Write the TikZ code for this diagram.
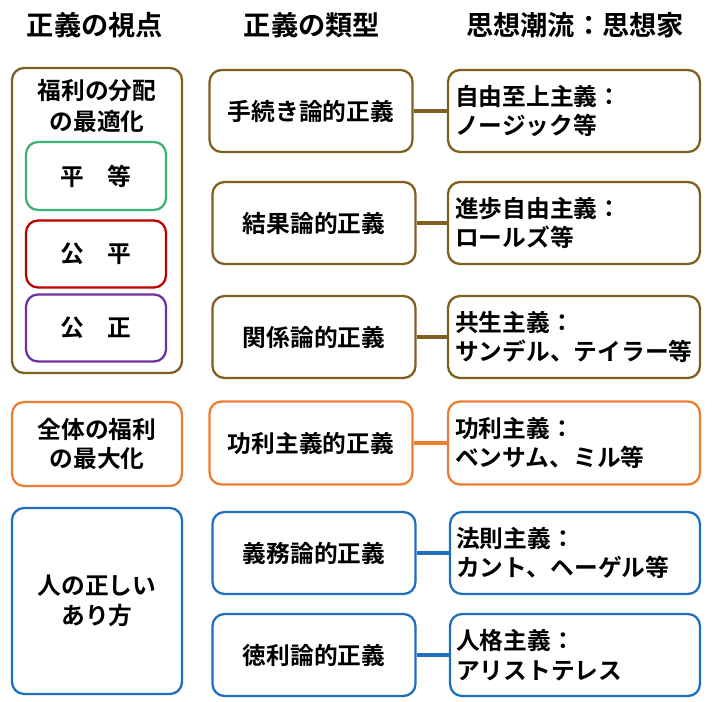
\documentclass[tikz,border=0pt]{standalone}
\usepackage{fontspec}
\setmainfont{Noto Sans CJK JP Bold}
\begin{document}
\begin{tikzpicture}[x=0.02cm,y=-0.02cm]
\tikzset{ box/.style={draw, line width=1.3pt, rounded corners=0.24cm, fill=white,
  inner sep=0pt, font=\fontsize{13.5}{17}\selectfont},
  wbox/.style={box, text width=4.75cm, align=left},
  hdr/.style={font=\fontsize{15.5}{18}\selectfont},
  link/.style={line width=1.8pt} }
\definecolor{brn}{HTML}{7F6020}
\definecolor{grn}{HTML}{3CB371}
\definecolor{rd}{HTML}{C00000}
\definecolor{prp}{HTML}{7030A0}
\definecolor{org}{HTML}{ED7D31}
\definecolor{blu}{HTML}{1F6FBF}

\useasboundingbox (0,0) rectangle (720,702);

%%% Titulos
\node [hdr] (H1) at (95,25) {正義の視点};
\node [hdr] (H2) at (312,25) {正義の類型};
\node [hdr] (H3) at (575,25) {思想潮流：思想家};

%%% Coluna esquerda
\draw [box, draw=brn] (12,68) rectangle (182,373);
\node [font=\fontsize{13.5}{18}\selectfont, align=center] (DIST) at (97,106) {福利の分配\\の最適化};
\node [box, draw=grn, minimum width=2.8cm, minimum height=1.36cm] (EQ) at (96,176) {平　等};
\node [box, draw=rd, minimum width=2.8cm, minimum height=1.34cm] (FAIR) at (96,254) {公　平};
\node [box, draw=prp, minimum width=2.8cm, minimum height=1.34cm] (JUST) at (96,328) {公　正};
\node [box, draw=org, align=center, minimum width=3.4cm, minimum height=1.68cm] (MAX) at (97,444) {全体の福利\\の最大化};
\node [box, draw=blu, align=center, minimum width=3.4cm, minimum height=3.72cm] (PERS) at (97,601) {人の正しい\\あり方};

%%% Coluna do meio
\node [box, draw=brn, minimum width=4.06cm, minimum height=1.64cm] (PROC) at (311,111) {手続き論的正義};
\node [box, draw=brn, minimum width=4.06cm, minimum height=1.64cm] (RES)  at (314,223) {結果論的正義};
\node [box, draw=brn, minimum width=4.06cm, minimum height=1.64cm] (REL)  at (314,337) {関係論的正義};
\node [box, draw=org, minimum width=4.06cm, minimum height=1.66cm] (UTIL) at (311,443) {功利主義的正義};
\node [box, draw=blu, minimum width=4.06cm, minimum height=1.64cm] (DUTY) at (314,553) {義務論的正義};
\node [box, draw=blu, minimum width=4.06cm, minimum height=1.64cm] (VIRT) at (314,655) {徳利論的正義};

%%% Coluna direita
\node [wbox, draw=brn, minimum width=5.04cm, minimum height=1.64cm] (LIB)  at (574,111) {自由至上主義：\\ノージック等};
\node [wbox, draw=brn, minimum width=5.04cm, minimum height=1.64cm] (PROG) at (574,223) {進歩自由主義：\\ロールズ等};
\node [wbox, draw=brn, minimum width=5.04cm, minimum height=1.64cm] (COM)  at (574,337) {共生主義：\\サンデル、テイラー等};
\node [wbox, draw=org, minimum width=5.04cm, minimum height=1.66cm] (BEN)  at (574,443) {功利主義：\\ベンサム、ミル等};
\node [wbox, draw=blu, minimum width=5.0cm, minimum height=1.64cm] (KANT) at (575,553) {法則主義：\\カント、ヘーゲル等};
\node [wbox, draw=blu, minimum width=5.0cm, minimum height=1.64cm] (ARI)  at (575,655) {人格主義：\\アリストテレス};

%%% Ligacoes
\draw [link, brn] (PROC) -- (LIB);
\draw [link, brn] (RES) -- (PROG);
\draw [link, brn] (REL) -- (COM);
\draw [link, org] (UTIL) -- (BEN);
\draw [link, blu] (DUTY) -- (KANT);
\draw [link, blu] (VIRT) -- (ARI);

\end{tikzpicture}
\end{document}
